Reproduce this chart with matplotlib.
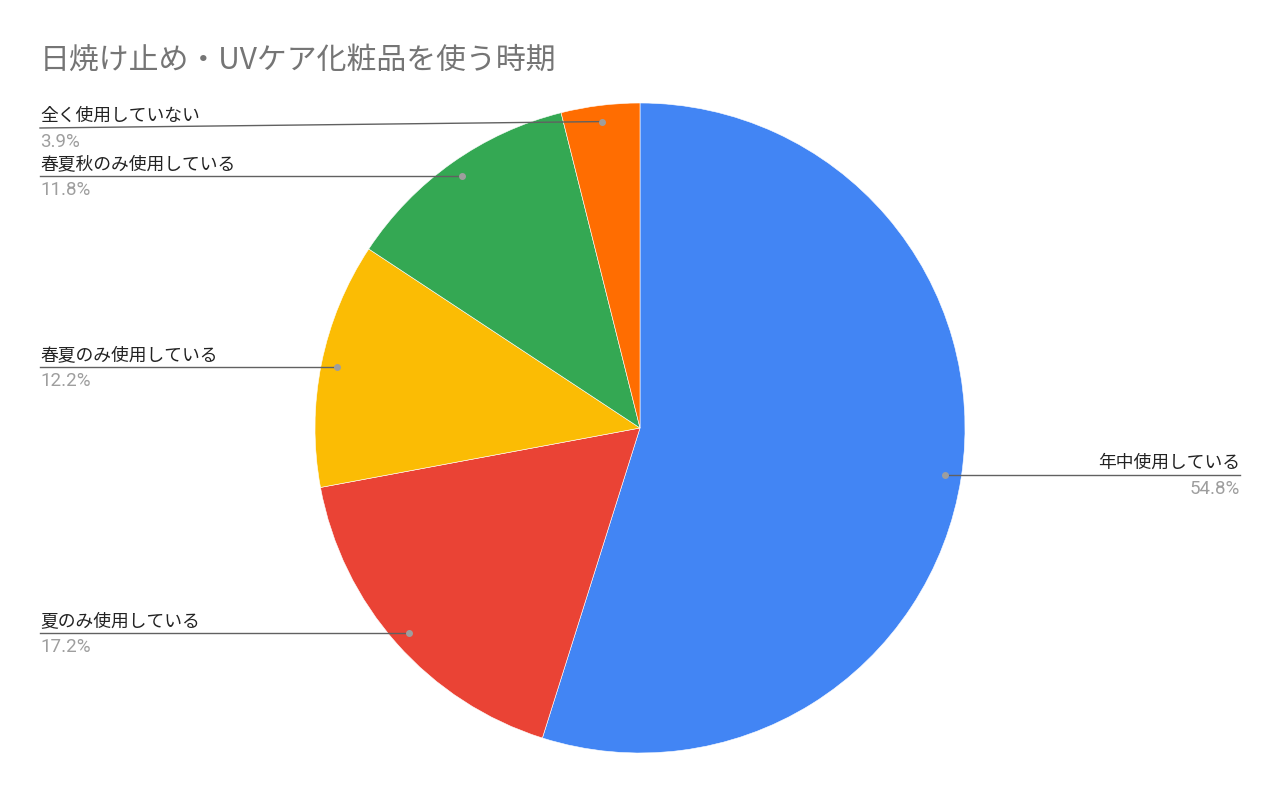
import numpy as np
import matplotlib
matplotlib.use("Agg")
import matplotlib.pyplot as plt

plt.rcParams['font.family'] = ['Noto Sans CJK JP', 'DejaVu Sans']

title = '日焼け止め・UVケア化粧品を使う時期'
labels = ['年中使用している', '夏のみ使用している', '春夏のみ使用している',
          '春夏秋のみ使用している', '全く使用していない']
values = [54.8, 17.2, 12.2, 11.8, 3.9]
colors = ['#4285F4', '#EA4335', '#FBBC04', '#34A853', '#FF6D01']

W, H = 1280, 793
fig = plt.figure(figsize=(W / 100, H / 100), dpi=100)
ax = fig.add_axes([0, 0, 1, 1])

cx, cy, R = 640, H - 428, 325
wedges, _ = ax.pie(values, colors=colors, startangle=90, counterclock=False,
                   center=(cx, cy), radius=R, frame=True,
                   wedgeprops=dict(edgecolor='white', linewidth=0.4))
ax.set_xlim(0, W)
ax.set_ylim(0, H)
ax.set_aspect('equal')
ax.axis('off')

# label line heights (pixels from top); None -> same as the dot
line_y = [None, None, None, None, 128]

for i, w in enumerate(wedges):
    mid = np.deg2rad((w.theta1 + w.theta2) / 2)
    px = cx + 0.95 * R * np.cos(mid)
    py = cy + 0.95 * R * np.sin(mid)
    ly = py if line_y[i] is None else H - line_y[i]
    right = px > cx
    x_end = 1240 if right else 40
    ax.plot([px, x_end], [py, ly], color='#616161', lw=1, zorder=5)
    ax.plot(px, py, 'o', color='#9e9e9e', ms=4, zorder=6)
    ha = 'right' if right else 'left'
    ax.text(x_end, ly + 3, labels[i], ha=ha, va='bottom', fontsize=12.8,
            color='#222222')
    ax.text(x_end, ly - 5, f'{values[i]}%', ha=ha, va='top', fontsize=13.5,
            color='#9e9e9e', family=['Roboto', 'DejaVu Sans'])

fig.text(40 / W, 1 - 60 / H, title, ha='left', va='center', fontsize=21.5,
         color='#757575')

fig.savefig('out.png', dpi=100)
